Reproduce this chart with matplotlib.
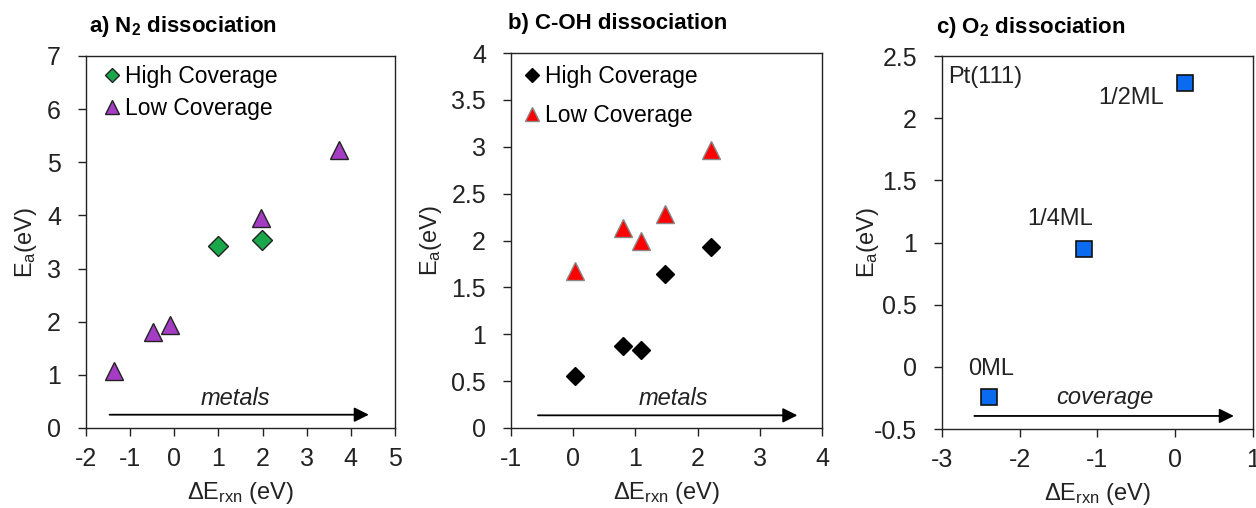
import matplotlib
matplotlib.use('Agg')
import matplotlib.pyplot as plt

plt.rcParams['font.family'] = ['Liberation Sans', 'DejaVu Sans']
plt.rcParams['mathtext.fontset'] = 'custom'
plt.rcParams['mathtext.rm'] = 'Liberation Sans'
plt.rcParams['mathtext.it'] = 'Liberation Sans:italic'
plt.rcParams['mathtext.bf'] = 'Liberation Sans:bold'

# a) N2 dissociation
n2_high_x = [1.0, 1.99]
n2_high_y = [3.42, 3.53]
n2_low_x = [-1.37, -0.48, -0.10, 1.96, 3.73]
n2_low_y = [1.08, 1.80, 1.94, 3.96, 5.24]

# b) C-OH dissociation
coh_high_x = [0.03, 0.80, 1.09, 1.48, 2.21]
coh_high_y = [0.56, 0.87, 0.83, 1.64, 1.93]
coh_low_x = [0.03, 0.80, 1.09, 1.48, 2.22]
coh_low_y = [1.67, 2.13, 2.00, 2.28, 2.97]

# c) O2 dissociation on Pt(111)
o2_x = [-2.39, -1.17, 0.13]
o2_y = [-0.245, 0.95, 2.28]
o2_labels = ['0ML', '1/4ML', '1/2ML']
o2_label_pos = [(-2.37, -0.02), (-1.48, 1.19), (-0.57, 2.16)]

fig = plt.figure(figsize=(12.56, 5.08), dpi=100)
ax1 = fig.add_axes([0.0685, 0.1575, 0.246, 0.7323])
ax2 = fig.add_axes([0.4068, 0.1575, 0.2476, 0.738])
ax3 = fig.add_axes([0.75, 0.1555, 0.2476, 0.734])

tick_fs = 18
label_fs = 17
ink = '#222222'


def style(ax, xlim, ylim, xticks, yticks, ylabelpad):
    ax.set_xlim(xlim)
    ax.set_ylim(ylim)
    ax.set_xticks(xticks)
    ax.set_xticklabels([f'{t:g}' for t in xticks])
    ax.set_yticks(yticks)
    ax.set_yticklabels([f'{t:g}' for t in yticks])
    ax.tick_params(direction='out', length=6, width=1, labelsize=tick_fs, colors=ink)
    ax.tick_params(axis='x', pad=8)
    ax.tick_params(axis='y', pad=12)
    for s in ax.spines.values():
        s.set_linewidth(1)
        s.set_color(ink)
    ax.set_xlabel(r'$\mathregular{\Delta E_{rxn}}$ (eV)', fontsize=label_fs, color=ink, labelpad=6)
    ax.set_ylabel(r'$\mathregular{E_a(eV)}$', fontsize=label_fs, color=ink, labelpad=ylabelpad)


def arrow(ax, x0, x1, y, text, tx, ty):
    ax.annotate('', xy=(x1, y), xytext=(x0, y),
                arrowprops=dict(arrowstyle='-|>', color='black', lw=1.3, mutation_scale=22))
    ax.text(tx, ty, text, fontsize=17, style='italic', ha='center', va='center', color=ink)


# panel a
ax1.plot(n2_high_x, n2_high_y, 'D', ms=10, mfc='#1aa64a', mec=ink, mew=1, label='High Coverage')
ax1.plot(n2_low_x, n2_low_y, '^', ms=13, mfc='#a43cc4', mec=ink, mew=1, label='Low Coverage')
style(ax1, (-2, 5), (0, 7), range(-2, 6), range(0, 8), 6)
arrow(ax1, -1.53, 4.47, 0.25, 'metals', 1.38, 0.55)
ax1.legend(loc='upper left', frameon=False, fontsize=16.5, markerscale=0.75, handlelength=0.7,
           handletextpad=0.2, labelspacing=0.38, borderaxespad=0.2, borderpad=0.2,
           bbox_to_anchor=(0.03, 1.0))
ax1.set_title(r'a) N$_\mathbf{2}$ dissociation', fontsize=16, fontweight='bold', loc='left', x=0.01, pad=17)

# panel b
ax2.plot(coh_high_x, coh_high_y, 'D', ms=9, mfc='black', mec='black', mew=1, label='High Coverage')
ax2.plot(coh_low_x, coh_low_y, '^', ms=13, mfc='#ff0000', mec='#888888', mew=1, label='Low Coverage')
style(ax2, (-1, 4), (0, 4), range(-1, 5), [0, 0.5, 1, 1.5, 2, 2.5, 3, 3.5, 4], 5)
arrow(ax2, -0.61, 3.65, 0.135, 'metals', 1.61, 0.31)
ax2.legend(loc='upper left', frameon=False, fontsize=16.5, markerscale=0.75, handlelength=0.7,
           handletextpad=0.2, labelspacing=0.7, borderaxespad=0.2, borderpad=0.3,
           bbox_to_anchor=(0.005, 1.0))
ax2.set_title('b) C-OH dissociation', fontsize=16, fontweight='bold', loc='left', x=-0.01, pad=17)

# panel c
ax3.plot(o2_x, o2_y, 's', ms=11, mfc='#0a6af0', mec='#111111', mew=1.2, linestyle='none')
style(ax3, (-3, 1), (-0.5, 2.5), range(-3, 2), [-0.5, 0, 0.5, 1, 1.5, 2, 2.5], -5)
for lab, (lx, ly) in zip(o2_labels, o2_label_pos):
    ax3.text(lx, ly, lab, fontsize=17, ha='center', va='center', color=ink)
ax3.text(-2.92, 2.33, 'Pt(111)', fontsize=17, ha='left', va='center', color=ink)
arrow(ax3, -2.62, 0.79, -0.395, 'coverage', -0.91, -0.25)
ax3.set_title(r'c) O$_\mathbf{2}$ dissociation', fontsize=16, fontweight='bold', loc='left', x=-0.02, pad=17)

fig.savefig('out.png', dpi=100)
